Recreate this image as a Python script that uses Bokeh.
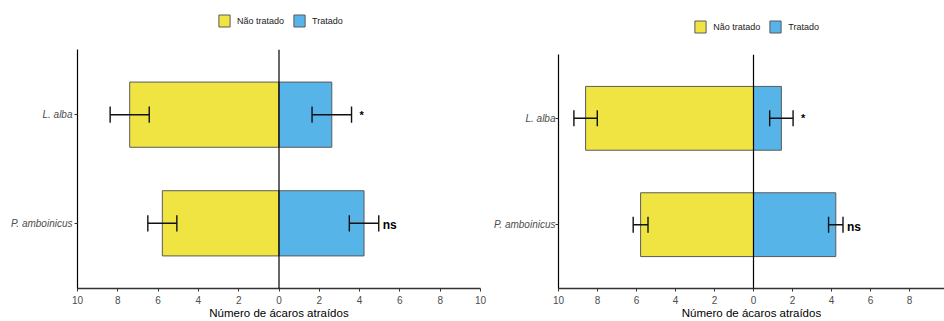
from bokeh.plotting import figure
from bokeh.models import (Range1d, FixedTicker, CustomJSTickFormatter, Span, ColumnDataSource,
                          Legend, LegendItem)
from bokeh.layouts import row, column
from bokeh.core.properties import value
from bokeh.embed import file_html
from bokeh.resources import INLINE

categories = ["L. alba", "P. amboinicus"]
groups = ["Não tratado", "Tratado"]
x_ticks = [-10, -8, -6, -4, -2, 0, 2, 4, 6, 8, 10]
x_title = "Número de ácaros atraídos"

# Panel A
a_untreated = [7.41, 5.79]
a_untreated_se = [0.97, 0.72]
a_treated = [2.62, 4.22]
a_treated_se = [0.98, 0.73]
a_sig = ["*", "ns"]

# Panel B
b_untreated = [8.61, 5.79]
b_untreated_se = [0.60, 0.38]
b_treated = [1.43, 4.22]
b_treated_se = [0.60, 0.37]
b_sig = ["*", "ns"]

YELLOW = "#F0E442"
BLUE = "#56B4E9"
EDGE = "#5a5a5a"
FONT = "Liberation Sans"
LEG_H = 40
MAIN_H = 281


def make_source(untr, untr_se, tr, tr_se, sig):
    n = len(categories)
    ypos = [n - i for i in range(n)]
    cap = 0.075
    return ColumnDataSource(dict(
        y=ypos,
        neg=[-v for v in untr],
        tr=tr,
        u_lo=[-v - s for v, s in zip(untr, untr_se)],
        u_hi=[-v + s for v, s in zip(untr, untr_se)],
        t_lo=[v - s for v, s in zip(tr, tr_se)],
        t_hi=[v + s for v, s in zip(tr, tr_se)],
        y_top=[y + cap for y in ypos],
        y_bot=[y - cap for y in ypos],
        sig=sig,
        sig_x=[v + s for v, s in zip(tr, tr_se)],
        sig_dx=[8 if s == "*" else 4 for s in sig],
        sig_dy=[0 if s == "*" else 2 for s in sig],
        sig_size=["11px" if s == "*" else "12px" for s in sig],
    )), ypos


def legend_fig(src, width, box_x, box_bottom):
    # legend-only strip above a panel; the data bars are kept outside its y range
    lf = figure(width=width, height=LEG_H, x_range=Range1d(-10, 10), y_range=Range1d(10, 11),
                output_backend="svg", toolbar_location=None, title=None,
                x_axis_location=None, y_axis_location=None,
                min_border_left=0, min_border_right=0, min_border_top=0, min_border_bottom=0)
    lf.outline_line_color = None
    lf.grid.visible = False
    g1 = lf.hbar(y="y", left="neg", right=0, height=0.6, fill_color=YELLOW,
                 line_color=EDGE, line_width=1, source=src)
    g2 = lf.hbar(y="y", left=0, right="tr", height=0.6, fill_color=BLUE,
                 line_color=EDGE, line_width=1, source=src)
    legend = Legend(items=[LegendItem(label=groups[0], renderers=[g1]),
                           LegendItem(label=groups[1], renderers=[g2])],
                    location=(box_x, box_bottom), orientation="horizontal",
                    glyph_width=14, glyph_height=15, label_height=15, label_width=10,
                    label_text_font=FONT, label_text_font_size="9px", label_text_color="#1a1a1a",
                    label_standoff=6, spacing=8, padding=0, margin=0,
                    border_line_alpha=0, background_fill_alpha=0)
    lf.add_layout(legend)
    return lf


def panel(src, ypos, width, x_end, b_left, b_right, b_top, frame_h, y_standoff):
    n = len(categories)
    p = figure(width=width, height=MAIN_H, x_range=Range1d(-10, x_end),
               y_range=Range1d(0.4, n + 0.6), title=None,
               output_backend="svg", toolbar_location=None,
               min_border_left=b_left, min_border_right=b_right, min_border_top=b_top,
               min_border_bottom=MAIN_H - b_top - frame_h)
    p.outline_line_color = None
    p.grid.visible = False

    p.hbar(y="y", left="neg", right=0, height=0.6, fill_color=YELLOW,
           line_color=EDGE, line_width=1, source=src)
    p.hbar(y="y", left=0, right="tr", height=0.6, fill_color=BLUE,
           line_color=EDGE, line_width=1, source=src)

    ek = dict(line_color="#111111", line_width=1.4, source=src)
    p.segment(x0="u_lo", x1="u_hi", y0="y", y1="y", **ek)
    p.segment(x0="u_lo", x1="u_lo", y0="y_bot", y1="y_top", **ek)
    p.segment(x0="u_hi", x1="u_hi", y0="y_bot", y1="y_top", **ek)
    p.segment(x0="t_lo", x1="t_hi", y0="y", y1="y", **ek)
    p.segment(x0="t_lo", x1="t_lo", y0="y_bot", y1="y_top", **ek)
    p.segment(x0="t_hi", x1="t_hi", y0="y_bot", y1="y_top", **ek)

    p.text(x="sig_x", y="y", text="sig", x_offset="sig_dx", y_offset="sig_dy",
           text_font=value(FONT), text_font_style="bold", text_font_size="sig_size",
           text_align="left", text_baseline="middle", text_color="black", source=src)

    p.add_layout(Span(location=0, dimension="height", line_color="black", line_width=1.2))

    p.xaxis.ticker = FixedTicker(ticks=x_ticks)
    p.xaxis.formatter = CustomJSTickFormatter(code="return String(Math.abs(tick))")
    p.yaxis.ticker = FixedTicker(ticks=ypos)
    p.yaxis.major_label_overrides = {y: c for y, c in zip(ypos, categories)}
    p.yaxis.major_label_text_font_style = "italic"
    for ax in (p.xaxis, p.yaxis):
        ax.major_label_text_font = FONT
        ax.major_label_text_font_size = "10px"
        ax.major_label_text_color = "#4d4d4d"
        ax.major_tick_in = 0
        ax.major_tick_out = 3
        ax.minor_tick_line_color = None
        ax.major_tick_line_color = "#333333"
    p.xaxis.axis_line_color = "#333333"
    p.xaxis.axis_line_width = 1.4
    p.yaxis.axis_line_color = "black"
    p.yaxis.axis_line_width = 1.2
    p.xaxis.major_label_standoff = 4
    p.yaxis.major_label_standoff = y_standoff
    p.xaxis.axis_label = x_title
    p.xaxis.axis_label_text_font = FONT
    p.xaxis.axis_label_text_font_size = "11.5px"
    p.xaxis.axis_label_text_font_style = "normal"
    p.xaxis.axis_label_text_color = "black"
    p.xaxis.axis_label_standoff = 0
    return p


src_a, ypos_a = make_source(a_untreated, a_untreated_se, a_treated, a_treated_se, a_sig)
src_b, ypos_b = make_source(b_untreated, b_untreated_se, b_treated, b_treated_se, b_sig)

p1 = panel(src_a, ypos_a, width=489, x_end=10, b_left=77, b_right=9, b_top=9, frame_h=240,
           y_standoff=2)
l1 = legend_fig(src_a, 489, 140, LEG_H - 28.3)
p2 = panel(src_b, ypos_b, width=455, x_end=9.795, b_left=69, b_right=0, b_top=14, frame_h=234,
           y_standoff=0)
l2 = legend_fig(src_b, 455, 135.3, LEG_H - 34.3)

layout = row(column(l1, p1), column(l2, p2))
open("out.html", "w").write(file_html(layout, INLINE))
